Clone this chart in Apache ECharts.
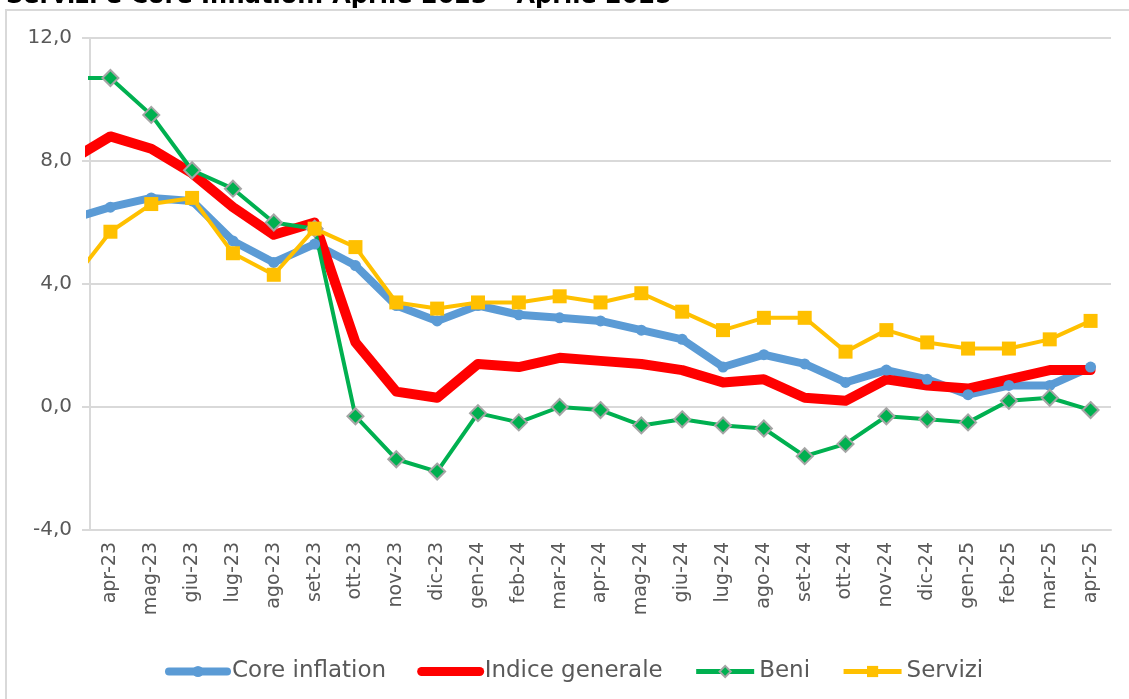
<!DOCTYPE html>
<html>
<head>
<meta charset="utf-8">
<title>Servizi e Core Inflation</title>
<script src="https://cdn.jsdelivr.net/npm/echarts@6/dist/echarts.min.js"></script>
<style>
  html, body { margin: 0; padding: 0; background: #fff; }
  #chart { width: 1129px; height: 699px; }
</style>
</head>
<body>
<div id="chart"></div>
<script>
// mesi sull'asse x
const categories = ['apr-23', 'mag-23', 'giu-23', 'lug-23', 'ago-23', 'set-23', 'ott-23', 'nov-23', 'dic-23',
  'gen-24', 'feb-24', 'mar-24', 'apr-24', 'mag-24', 'giu-24', 'lug-24', 'ago-24', 'set-24', 'ott-24',
  'nov-24', 'dic-24', 'gen-25', 'feb-25', 'mar-25', 'apr-25']

// valore di mar-23: il grafico lo taglia a metà, si vede solo il segmento in entrata
const prevCore = 6.1
const prevIndice = 8.0
const prevBeni = 10.7
const prevServizi = 4.0

const coreInflation = [6.5, 6.8, 6.7, 5.4, 4.7, 5.3, 4.6, 3.3, 2.8, 3.3, 3.0, 2.9, 2.8, 2.5, 2.2, 1.3, 1.7, 1.4, 0.8, 1.2, 0.9, 0.4, 0.7, 0.7, 1.3]
const indiceGenerale = [8.8, 8.4, 7.6, 6.5, 5.6, 6.0, 2.1, 0.5, 0.3, 1.4, 1.3, 1.6, 1.5, 1.4, 1.2, 0.8, 0.9, 0.3, 0.2, 0.9, 0.7, 0.6, 0.9, 1.2, 1.2]
const beni = [10.7, 9.5, 7.7, 7.1, 6.0, 5.8, -0.3, -1.7, -2.1, -0.2, -0.5, 0.0, -0.1, -0.6, -0.4, -0.6, -0.7, -1.6, -1.2, -0.3, -0.4, -0.5, 0.2, 0.3, -0.1]
const servizi = [5.7, 6.6, 6.8, 5.0, 4.3, 5.8, 5.2, 3.4, 3.2, 3.4, 3.4, 3.6, 3.4, 3.7, 3.1, 2.5, 2.9, 2.9, 1.8, 2.5, 2.1, 1.9, 1.9, 2.2, 2.8]

const yTicks = { min: -4, max: 12, interval: 4 }

const FONT = "'DejaVu Sans', Verdana, sans-serif"
const GREY_TEXT = '#595959'
const GRID_LINE = '#d9d9d9'

// punti [indice, valore] sull'asse nascosto, con il mese precedente fuori dal grafico
const toPoints = (prev, values) => [
  { value: [-1, prev], symbol: 'none' },
  ...values.map((v, i) => [i, v])
]

const chart = echarts.init(document.getElementById('chart'), null, { renderer: 'canvas' })

const option = {
  animation: false,
  backgroundColor: '#fff',
  textStyle: { fontFamily: FONT },
  graphic: [
    {
      type: 'rect',
      z: -1,
      shape: { x: 6, y: 10, width: 1300, height: 900 },
      style: { fill: 'none', stroke: GRID_LINE, lineWidth: 2 }
    },
    {
      type: 'text',
      left: 6,
      top: -15,
      style: {
        text: 'Servizi e Core Inflation: Aprile 2023 – Aprile 2025',
        font: 'bold 24px ' + FONT,
        fill: '#000'
      }
    }
  ],
  grid: { left: 90, right: 18, top: 38, bottom: 169, containLabel: false },
  legend: {
    left: 165,
    top: 660,
    padding: 0,
    itemWidth: 58,
    itemHeight: 14,
    itemGap: 31,
    textStyle: { fontSize: 23, color: GREY_TEXT, fontFamily: FONT },
    data: [
      { name: 'Core inflation', lineStyle: { width: 8 } },
      // nessun marcatore per l'indice generale, solo la linea
      { name: 'Indice generale', lineStyle: { width: 9 }, itemStyle: { color: 'rgba(0,0,0,0)', borderWidth: 0 } },
      { name: 'Beni', lineStyle: { width: 5 } },
      { name: 'Servizi', lineStyle: { width: 5 } }
    ]
  },
  xAxis: [
    {
      type: 'category',
      data: categories,
      boundaryGap: true,
      axisLine: { show: true, onZero: false, lineStyle: { color: GRID_LINE, width: 2 } },
      axisTick: { show: false },
      axisLabel: {
        interval: 0,
        rotate: 90,
        margin: 12,
        fontSize: 19,
        color: GREY_TEXT,
        fontFamily: FONT
      },
      splitLine: { show: false }
    },
    {
      // asse nascosto per disegnare anche il mese prima di apr-23
      type: 'value',
      min: -0.5,
      max: categories.length - 0.5,
      show: false
    }
  ],
  yAxis: {
    type: 'value',
    min: yTicks.min,
    max: yTicks.max,
    interval: yTicks.interval,
    axisLine: { show: true, onZero: false, lineStyle: { color: GRID_LINE, width: 2 } },
    axisTick: { show: true, length: 8, lineStyle: { color: GRID_LINE, width: 2 } },
    axisLabel: {
      margin: 18,
      fontSize: 20,
      color: GREY_TEXT,
      fontFamily: FONT,
      formatter: (v) => v.toFixed(1).replace('.', ',')
    },
    splitLine: { show: true, lineStyle: { color: GRID_LINE, width: 2 } }
  },
  series: [
    {
      name: 'Core inflation',
      type: 'line',
      xAxisIndex: 1,
      data: toPoints(prevCore, coreInflation),
      symbol: 'circle',
      symbolSize: 11,
      itemStyle: { color: '#5B9BD5' },
      lineStyle: { width: 8, color: '#5B9BD5', cap: 'round', join: 'round' }
    },
    {
      name: 'Indice generale',
      type: 'line',
      xAxisIndex: 1,
      data: toPoints(prevIndice, indiceGenerale),
      symbol: 'none',
      itemStyle: { color: '#FF0000' },
      lineStyle: { width: 10, color: '#FF0000', cap: 'round', join: 'round' }
    },
    {
      name: 'Beni',
      type: 'line',
      xAxisIndex: 1,
      data: toPoints(prevBeni, beni),
      symbol: 'diamond',
      symbolSize: 16,
      itemStyle: { color: '#00B050', borderColor: '#A5A5A5', borderWidth: 2 },
      lineStyle: { width: 4, color: '#00B050', join: 'round' }
    },
    {
      name: 'Servizi',
      type: 'line',
      xAxisIndex: 1,
      data: toPoints(prevServizi, servizi),
      symbol: 'rect',
      symbolSize: 14,
      itemStyle: { color: '#FFC000' },
      lineStyle: { width: 4, color: '#FFC000', join: 'round' }
    }
  ]
}

chart.setOption(option)
</script>
</body>
</html>
